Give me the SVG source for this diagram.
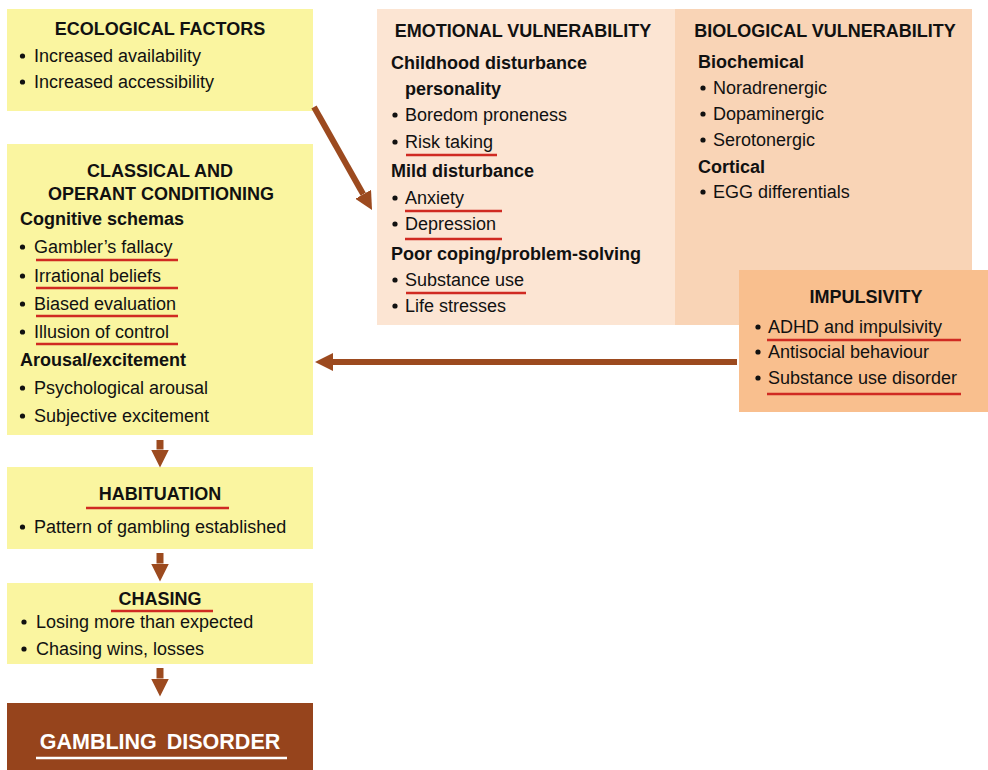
<svg xmlns="http://www.w3.org/2000/svg" width="988" height="770" viewBox="0 0 988 770">
<style>
text{font-family:"Liberation Sans",Arial,sans-serif;font-size:18px;fill:#111}
.b{font-weight:bold}
.c{text-anchor:middle}
.yel{fill:#FAF5A0}
.ul{stroke:#D02A22;stroke-width:2.6}
.dot{fill:#111}
.conn{stroke:#9C4A1F;stroke-width:6;fill:none}
</style>
<defs>
<marker id="ah" markerWidth="18" markerHeight="18" refX="0" refY="9" orient="auto" markerUnits="userSpaceOnUse">
<path d="M0,0 L18,9 L0,18 z" fill="#9C4A1F"/>
</marker>
</defs>
<rect width="988" height="770" fill="#fff"/>

<g id="ecological">
<rect class="yel" x="7" y="9" width="306" height="102"/>
<text class="b c" x="160" y="35">ECOLOGICAL FACTORS</text>
<circle class="dot" cx="22.5" cy="56" r="2.6"/><text x="34" y="62">Increased availability</text>
<circle class="dot" cx="22.5" cy="82" r="2.6"/><text x="34" y="88">Increased accessibility</text>
</g>

<g id="emotional">
<rect x="377" y="9" width="298" height="316" fill="#FCE5D3"/>
<text class="b c" x="523" y="37">EMOTIONAL VULNERABILITY</text>
<text class="b" x="391" y="69">Childhood disturbance</text>
<text class="b" x="405" y="95">personality</text>
<circle class="dot" cx="395" cy="115" r="2.6"/><text x="405" y="121">Boredom proneness</text>
<circle class="dot" cx="395" cy="142" r="2.6"/><text x="405" y="148">Risk taking</text>
<line class="ul" x1="406" y1="155" x2="497" y2="155"/>
<text class="b" x="391" y="177">Mild disturbance</text>
<circle class="dot" cx="395" cy="198" r="2.6"/><text x="405" y="204">Anxiety</text>
<line class="ul" x1="405" y1="211" x2="502" y2="211"/>
<circle class="dot" cx="395" cy="224" r="2.6"/><text x="405" y="230">Depression</text>
<line class="ul" x1="405" y1="239" x2="502" y2="239"/>
<text class="b" x="391" y="260">Poor coping/problem-solving</text>
<circle class="dot" cx="395" cy="280" r="2.6"/><text x="405" y="286">Substance use</text>
<line class="ul" x1="406" y1="293" x2="526" y2="293"/>
<circle class="dot" cx="395" cy="306" r="2.6"/><text x="405" y="312">Life stresses</text>
</g>

<g id="biological">
<rect x="675" y="9" width="297" height="316" fill="#F9D4B6"/>
<text class="b c" x="825" y="37">BIOLOGICAL VULNERABILITY</text>
<text class="b" x="698" y="68">Biochemical</text>
<circle class="dot" cx="703" cy="88" r="2.6"/><text x="713" y="94">Noradrenergic</text>
<circle class="dot" cx="703" cy="114" r="2.6"/><text x="713" y="120">Dopaminergic</text>
<circle class="dot" cx="703" cy="140" r="2.6"/><text x="713" y="146">Serotonergic</text>
<text class="b" x="698" y="173">Cortical</text>
<circle class="dot" cx="703" cy="192" r="2.6"/><text x="713" y="198">EGG differentials</text>
</g>

<g id="impulsivity">
<rect x="739" y="270" width="249" height="142" fill="#F9BF8E"/>
<text class="b c" x="866" y="303">IMPULSIVITY</text>
<circle class="dot" cx="758" cy="327" r="2.6"/><text x="768" y="333">ADHD and impulsivity</text>
<line class="ul" x1="767" y1="340" x2="961" y2="340"/>
<circle class="dot" cx="758" cy="352" r="2.6"/><text x="768" y="358">Antisocial behaviour</text>
<circle class="dot" cx="758" cy="378" r="2.6"/><text x="768" y="384">Substance use disorder</text>
<line class="ul" x1="767" y1="394" x2="961" y2="394"/>
</g>

<g id="conditioning">
<rect class="yel" x="7" y="144" width="306" height="291"/>
<text class="b c" x="160" y="177">CLASSICAL AND</text>
<text class="b c" x="161" y="200">OPERANT CONDITIONING</text>
<text class="b" x="20" y="225">Cognitive schemas</text>
<circle class="dot" cx="22.5" cy="247" r="2.6"/><text x="34" y="253">Gambler’s fallacy</text>
<line class="ul" x1="36" y1="260" x2="178" y2="260"/>
<circle class="dot" cx="22.5" cy="276" r="2.6"/><text x="34" y="282">Irrational beliefs</text>
<line class="ul" x1="36" y1="288" x2="178" y2="288"/>
<circle class="dot" cx="22.5" cy="304" r="2.6"/><text x="34" y="310">Biased evaluation</text>
<line class="ul" x1="36" y1="316" x2="178" y2="316"/>
<circle class="dot" cx="22.5" cy="332" r="2.6"/><text x="34" y="338">Illusion of control</text>
<line class="ul" x1="36" y1="344" x2="178" y2="344"/>
<text class="b" x="20" y="366">Arousal/excitement</text>
<circle class="dot" cx="22.5" cy="388" r="2.6"/><text x="34" y="394">Psychological arousal</text>
<circle class="dot" cx="22.5" cy="416" r="2.6"/><text x="34" y="422">Subjective excitement</text>
</g>

<g id="habituation">
<rect class="yel" x="7" y="467" width="306" height="82"/>
<text class="b c" x="160" y="500">HABITUATION</text>
<line class="ul" x1="86" y1="508" x2="229" y2="508"/>
<circle class="dot" cx="22.5" cy="527" r="2.6"/><text x="34" y="533">Pattern of gambling established</text>
</g>

<g id="chasing">
<rect class="yel" x="7" y="583" width="306" height="81"/>
<text class="b c" x="160" y="605">CHASING</text>
<line class="ul" x1="111" y1="611" x2="213" y2="611"/>
<circle class="dot" cx="24" cy="622" r="2.6"/><text x="36" y="628">Losing more than expected</text>
<circle class="dot" cx="24" cy="649" r="2.6"/><text x="36" y="655">Chasing wins, losses</text>
</g>

<g id="disorder">
<rect x="7" y="703" width="306" height="67" fill="#96441C"/>
<text class="b c" x="160" y="749" style="font-size:21.5px;fill:#fff;word-spacing:4px">GAMBLING DISORDER</text>
<line x1="36" y1="758" x2="287" y2="758" stroke="#fff" stroke-width="2.6"/>
</g>

<g id="connectors">
<line class="conn" x1="314" y1="107" x2="363.2" y2="194.3" marker-end="url(#ah)"/>
<line class="conn" x1="737" y1="362" x2="333" y2="362" marker-end="url(#ah)"/>
<line class="conn" x1="160" y1="440" x2="160" y2="449.5" style="stroke-width:7" marker-end="url(#ah)"/>
<line class="conn" x1="160" y1="553" x2="160" y2="563.5" style="stroke-width:7" marker-end="url(#ah)"/>
<line class="conn" x1="160" y1="668" x2="160" y2="678.5" style="stroke-width:7" marker-end="url(#ah)"/>
</g>
</svg>
